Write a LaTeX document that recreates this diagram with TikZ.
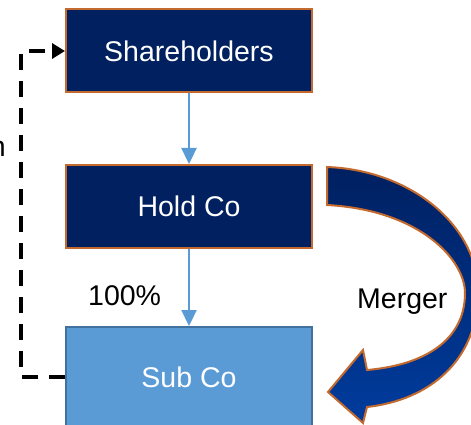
\documentclass[tikz,border=0pt]{standalone}
\usepackage{fontspec}
\setmainfont{Liberation Sans}
\usetikzlibrary{arrows.meta}
\definecolor{navy}{HTML}{002060}
\definecolor{rim}{HTML}{C46A2E}
\definecolor{lblue}{HTML}{5B9BD5}
\definecolor{lrim}{HTML}{41719C}
\definecolor{deepblue}{HTML}{003C9E}
\tikzset{
  darkbox/.style={draw=rim, fill=navy, line width=2pt, minimum width=246pt, minimum height=83pt, inner sep=0pt, text=white, font=\fontsize{28.5}{34}\selectfont},
  lightbox/.style={draw=lrim, fill=lblue, line width=2pt, minimum width=246pt, minimum height=100pt, inner sep=0pt, text=white, font=\fontsize{28.5}{34}\selectfont},
  conn/.style={draw=lblue, line width=2.3pt, -{Triangle[length=16pt,width=15pt]}},
  dashconn/.style={draw=black, line width=3.5pt, dash pattern=on 16pt off 11pt, -{Triangle[length=13pt,width=15pt]}},
  lbl/.style={font=\fontsize{28.5}{34}\selectfont, inner sep=0pt},
  blockarrow/.style={draw=rim, line width=2pt, top color=navy, bottom color=deepblue}
}
\begin{document}
\begin{tikzpicture}[x=1pt,y=-1pt]
\useasboundingbox (0,0) rectangle (471,425);
\clip (0,0) rectangle (471,425);
\fill[white] (0,0) rectangle (471,425);
\node[darkbox] (sh) at (189,51) {Shareholders};
\node[darkbox] (hc) at (189,206.5) {Hold Co};
\node[lightbox] (sub) at (189,377) {Sub Co};
\draw[conn] (sh.south) -- (hc.north);
\draw[conn] (hc.south) -- (sub.north);
\coordinate (c1) at (21,51);
\draw[dashconn] (sub.west) -| (c1) -- (sh.west);
\node[lbl, anchor=base east] (cut) at (6,157) {n};
\node[lbl, anchor=base west] (pct) at (88,305) {100\%};
\path[blockarrow] (327,167) .. controls (410,170) and (478,225) .. (478,292)
  .. controls (478,360) and (430,400) .. (367,407)
  -- (363,423) -- (328,392) -- (363,350) -- (367,370)
  .. controls (425,365) and (465,340) .. (465,293)
  .. controls (465,260) and (420,210) .. (327,205) -- cycle;
\node[lbl, anchor=base west] (mg) at (357,308) {Merger};
\end{tikzpicture}
\end{document}
